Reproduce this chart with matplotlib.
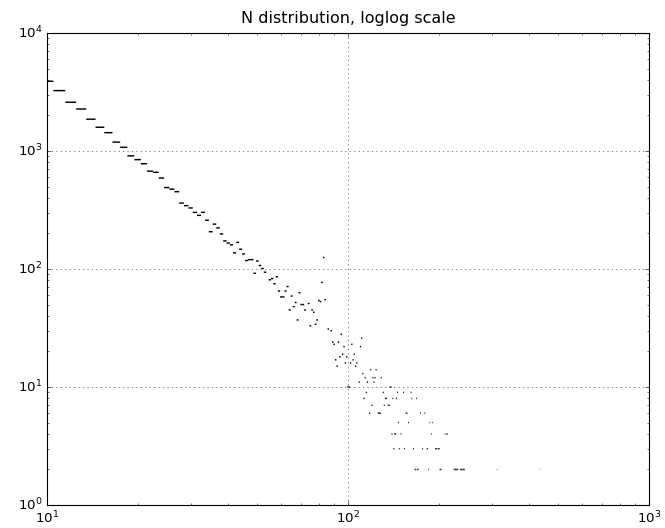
import matplotlib
matplotlib.use("Agg")
import matplotlib.pyplot as plt
import numpy as np

plt.style.use('classic')

# N value -> number of occurrences
n_values = [10, 11, 12, 13, 14, 15, 16, 17, 18, 19, 20, 21, 22, 23, 24, 25, 26, 27, 28, 29,
            30, 31, 32, 33, 34, 35, 36, 37, 38, 39, 40, 41, 42, 43, 44, 45, 46, 47, 48, 49,
            50, 51, 52, 53, 55, 56, 57, 58, 59, 60, 61, 62, 63, 64, 65, 66, 67, 68, 69, 70,
            71, 72, 74, 75, 76, 77, 78, 79, 80, 81, 82, 83, 84, 86, 88, 89, 90, 91, 92, 93,
            94, 95, 96, 97, 98, 99, 100, 101, 102, 103, 104, 105, 106, 107, 109, 110, 111, 112, 113, 114,
            115, 116, 118, 119, 120, 121, 122, 123, 124, 126, 127, 128, 129, 131, 132, 133, 134, 136, 137, 138,
            139, 140, 141, 142, 143, 144, 145, 146, 147, 148, 150, 153, 154, 156, 157, 159, 162, 163, 165, 167,
            168, 169, 170, 171, 174, 177, 180, 183, 184, 185, 187, 189, 191, 195, 196, 197, 199, 200, 201, 202,
            203, 204, 210, 212, 214, 225, 226, 227, 228, 229, 230, 231, 232, 236, 237, 238, 239, 240, 241, 242,
            243, 244, 313, 432]
counts = [3900, 3250, 2590, 2270, 1860, 1590, 1430, 1190, 1075, 910, 845, 780, 675, 660, 590, 490, 475, 452, 362, 344,
          329, 302, 285, 302, 259, 207, 240, 223, 198, 173, 166, 160, 137, 168, 147, 134, 118, 120, 120, 92,
          117, 107, 101, 94, 81, 83, 75, 86, 65, 58, 58, 65, 71, 45, 59, 48, 52, 37, 63, 50,
          50, 45, 51, 33, 45, 43, 34, 37, 54, 53, 77, 125, 55, 31, 30, 24, 23, 17, 15, 24,
          18, 28, 19, 22, 16, 18, 10, 10, 16, 23, 17, 19, 15, 16, 11, 22, 26, 13, 8, 12,
          9, 11, 6, 14, 7, 12, 11, 12, 14, 6, 6, 6, 12, 9, 7, 8, 8, 7, 7, 10,
          10, 4, 8, 3, 4, 4, 8, 9, 5, 3, 4, 9, 3, 6, 6, 5, 9, 8, 3, 2,
          2, 8, 2, 2, 6, 3, 6, 3, 3, 2, 5, 4, 5, 3, 3, 3, 3, 3, 3, 2,
          2, 2, 4, 4, 4, 2, 2, 2, 2, 2, 2, 2, 2, 2, 2, 2, 2, 2, 2, 2,
          2, 2, 2, 2]

title = "N distribution, loglog scale"

W, H, DPI = 665, 528, 80
fig = plt.figure(figsize=(W / DPI, H / DPI), dpi=DPI, facecolor='white')
ax = fig.add_axes([47 / W, 23 / H, (649 - 47) / W, (505 - 33) / H])

n = np.asarray(n_values, dtype=float)
c = np.asarray(counts, dtype=float)
lc = ax.hlines(c, n - 0.5, n + 0.5, colors='k', linewidth=1.3)
lc.set_snap(False)

ax.set_xscale('log')
ax.set_yscale('log')
ax.set_xlim(10, 1000)
ax.set_ylim(1, 10000)
ax.grid(True, which='major', color='k', linestyle=':', linewidth=0.5)
ax.set_title(title, pad=9)

fig.savefig("out.png", dpi=DPI, facecolor='white')
